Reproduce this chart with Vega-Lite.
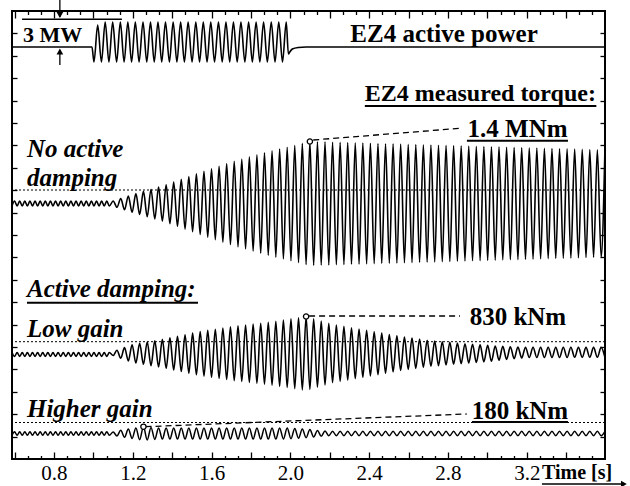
{
"$schema": "https://vega.github.io/schema/vega-lite/v6.json",
"width": 593, "height": 448,
"autosize": {"type": "none"},
"padding": {"left": 12, "top": 11, "right": 25, "bottom": 27},
"background": "white",
"config": {"view": {"stroke": "black", "strokeWidth": 2}, "font": "Liberation Serif"},
"data": {"values": [{}]},
"datasets": {
"power": [
{"t":0.587,"p":412},{"t":0.993,"p":412},
{"t":1.003,"p":397},{"t":1.022,"p":434},{"t":1.041,"p":397},{"t":1.060,"p":437},{"t":1.079,"p":397},{"t":1.098,"p":437},
{"t":1.118,"p":397},{"t":1.137,"p":437},{"t":1.156,"p":397},{"t":1.175,"p":437},{"t":1.194,"p":397},{"t":1.213,"p":437},
{"t":1.232,"p":397},{"t":1.252,"p":437},{"t":1.271,"p":397},{"t":1.290,"p":437},{"t":1.309,"p":397},{"t":1.328,"p":437},
{"t":1.347,"p":397},{"t":1.366,"p":437},{"t":1.386,"p":397},{"t":1.405,"p":437},{"t":1.424,"p":397},{"t":1.443,"p":437},
{"t":1.462,"p":397},{"t":1.481,"p":437},{"t":1.501,"p":397},{"t":1.520,"p":437},{"t":1.539,"p":397},{"t":1.558,"p":437},
{"t":1.577,"p":397},{"t":1.596,"p":437},{"t":1.615,"p":397},{"t":1.635,"p":437},{"t":1.654,"p":397},{"t":1.673,"p":437},
{"t":1.692,"p":397},{"t":1.711,"p":437},{"t":1.730,"p":397},{"t":1.749,"p":437},{"t":1.769,"p":397},{"t":1.788,"p":437},
{"t":1.807,"p":397},{"t":1.826,"p":437},{"t":1.845,"p":397},{"t":1.864,"p":437},{"t":1.883,"p":397},{"t":1.903,"p":437},
{"t":1.922,"p":397},{"t":1.941,"p":437},{"t":1.960,"p":397},{"t":1.979,"p":437},
{"t":1.990,"p":405},{"t":1.997,"p":407},{"t":2.010,"p":410},{"t":2.040,"p":411.5},{"t":2.080,"p":412},{"t":3.597,"p":412}
],
"torque": [
{"t":0.587,"b":253,"c":106.5,"d":23.7},{"t":0.600,"b":258,"c":102.5,"d":27.3},
{"t":0.613,"b":253,"c":106.5,"d":23.7},{"t":0.626,"b":258,"c":102.5,"d":27.3},
{"t":0.639,"b":253,"c":106.5,"d":23.7},{"t":0.652,"b":258,"c":102.5,"d":27.3},
{"t":0.665,"b":253,"c":106.5,"d":23.7},{"t":0.678,"b":258,"c":102.5,"d":27.3},
{"t":0.691,"b":253,"c":106.5,"d":23.7},{"t":0.704,"b":258,"c":102.5,"d":27.3},
{"t":0.717,"b":253,"c":106.5,"d":23.7},{"t":0.730,"b":258,"c":102.5,"d":27.3},
{"t":0.743,"b":253,"c":106.5,"d":23.7},{"t":0.756,"b":258,"c":102.5,"d":27.3},
{"t":0.769,"b":253,"c":106.5,"d":23.7},{"t":0.782,"b":258,"c":102.5,"d":27.3},
{"t":0.795,"b":253,"c":106.5,"d":23.7},{"t":0.808,"b":258,"c":102.5,"d":27.3},
{"t":0.821,"b":253,"c":106.5,"d":23.7},{"t":0.834,"b":258,"c":102.5,"d":27.3},
{"t":0.847,"b":253,"c":106.5,"d":23.7},{"t":0.860,"b":258,"c":102.5,"d":27.3},
{"t":0.873,"b":253,"c":106.5,"d":23.7},{"t":0.886,"b":258,"c":102.5,"d":27.3},
{"t":0.899,"b":253,"c":106.5,"d":23.7},{"t":0.912,"b":258,"c":102.5,"d":27.3},
{"t":0.925,"b":253,"c":106.5,"d":23.7},{"t":0.938,"b":258,"c":102.5,"d":27.3},
{"t":0.951,"b":253,"c":106.5,"d":23.7},{"t":0.964,"b":258,"c":102.5,"d":27.3},
{"t":0.977,"b":253,"c":106.5,"d":23.7},{"t":0.990,"b":258,"c":102.5,"d":27.3},
{"t":1.003,"b":253,"c":106.5,"d":23.7},{"t":1.016,"b":258,"c":102.5,"d":27.3},
{"t":1.029,"b":253,"c":106.5,"d":23.7},{"t":1.042,"b":258,"c":102.5,"d":27.3},
{"t":1.055,"b":253,"c":106.5,"d":23.7},{"t":1.068,"b":258,"c":102.5,"d":27.3},
{"t":1.081,"b":253,"c":106.5,"d":23.7},
{"t":1.1006,"b":258.0,"c":103.5,"d":27.0},
{"t":1.1198,"b":251.7,"c":108.8,"d":23.0},
{"t":1.1390,"b":260.5,"c":100.8,"d":28.7},
{"t":1.1582,"b":249.2,"c":111.5,"d":21.7},
{"t":1.1774,"b":263.0,"c":98.1,"d":29.9},
{"t":1.1966,"b":246.7,"c":114.3,"d":20.5},
{"t":1.2158,"b":265.4,"c":96.0,"d":31.1},
{"t":1.2350,"b":244.5,"c":115.7,"d":19.3},
{"t":1.2542,"b":267.6,"c":94.7,"d":32.3},
{"t":1.2734,"b":242.3,"c":117.0,"d":19.1},
{"t":1.2926,"b":269.8,"c":93.3,"d":31.6},
{"t":1.3118,"b":240.1,"c":118.3,"d":19.6},
{"t":1.3310,"b":272.0,"c":92.0,"d":31.1},
{"t":1.3502,"b":237.9,"c":119.7,"d":19.9},
{"t":1.3694,"b":274.2,"c":90.7,"d":31.1},
{"t":1.3886,"b":235.4,"c":121.1,"d":19.9},
{"t":1.4078,"b":276.9,"c":89.1,"d":31.1},
{"t":1.4270,"b":232.7,"c":122.7,"d":19.9},
{"t":1.4462,"b":279.7,"c":87.5,"d":31.1},
{"t":1.4654,"b":229.9,"c":124.3,"d":19.9},
{"t":1.4846,"b":282.5,"c":85.9,"d":31.1},
{"t":1.5038,"b":227.2,"c":125.9,"d":19.9},
{"t":1.5230,"b":285.2,"c":84.3,"d":31.1},
{"t":1.5422,"b":224.5,"c":127.5,"d":19.9},
{"t":1.5614,"b":287.8,"c":82.9,"d":31.1},
{"t":1.5806,"b":221.9,"c":128.7,"d":19.9},
{"t":1.5998,"b":290.3,"c":81.7,"d":31.1},
{"t":1.6190,"b":219.4,"c":129.8,"d":19.9},
{"t":1.6382,"b":292.8,"c":80.6,"d":31.1},
{"t":1.6574,"b":216.9,"c":131.0,"d":19.9},
{"t":1.6766,"b":295.4,"c":79.5,"d":31.1},
{"t":1.6958,"b":214.4,"c":132.1,"d":19.9},
{"t":1.7150,"b":297.8,"c":78.4,"d":31.1},
{"t":1.7342,"b":212.1,"c":133.1,"d":19.9},
{"t":1.7534,"b":299.9,"c":77.5,"d":31.1},
{"t":1.7726,"b":210.0,"c":134.0,"d":19.9},
{"t":1.7918,"b":302.1,"c":76.6,"d":31.1},
{"t":1.8110,"b":207.9,"c":134.9,"d":19.9},
{"t":1.8302,"b":304.2,"c":75.7,"d":31.1},
{"t":1.8494,"b":205.7,"c":135.8,"d":19.9},
{"t":1.8686,"b":306.3,"c":74.8,"d":31.1},
{"t":1.8878,"b":203.7,"c":136.7,"d":19.9},
{"t":1.9070,"b":308.2,"c":73.7,"d":31.1},
{"t":1.9262,"b":201.9,"c":137.8,"d":19.9},
{"t":1.9454,"b":310.0,"c":72.6,"d":31.1},
{"t":1.9646,"b":200.1,"c":139.0,"d":20.0},
{"t":1.9838,"b":311.8,"c":71.5,"d":30.9},
{"t":2.0030,"b":198.2,"c":140.1,"d":20.3},
{"t":2.0222,"b":313.7,"c":70.3,"d":30.5},
{"t":2.0414,"b":196.4,"c":141.3,"d":20.7},
{"t":2.0606,"b":315.6,"c":69.1,"d":30.0},
{"t":2.0798,"b":194.5,"c":142.5,"d":21.3},
{"t":2.0990,"b":317.5,"c":69.6,"d":29.4},
{"t":2.1182,"b":193.6,"c":140.3,"d":22.0},
{"t":2.1374,"b":317.3,"c":71.9,"d":28.6},
{"t":2.1566,"b":193.8,"c":138.0,"d":22.7},
{"t":2.1758,"b":317.1,"c":74.1,"d":28.0},
{"t":2.1950,"b":194.0,"c":135.7,"d":23.3},
{"t":2.2142,"b":316.8,"c":76.4,"d":27.7},
{"t":2.2334,"b":194.3,"c":134.0,"d":23.3},
{"t":2.2526,"b":316.6,"c":77.7,"d":27.7},
{"t":2.2718,"b":194.5,"c":132.6,"d":23.3},
{"t":2.2910,"b":316.4,"c":79.0,"d":27.7},
{"t":2.3102,"b":194.7,"c":131.3,"d":23.3},
{"t":2.3294,"b":316.2,"c":80.4,"d":27.7},
{"t":2.3486,"b":194.9,"c":130.0,"d":23.3},
{"t":2.3678,"b":316.0,"c":81.7,"d":27.7},
{"t":2.3870,"b":195.1,"c":128.6,"d":23.3},
{"t":2.4062,"b":315.8,"c":83.1,"d":27.7},
{"t":2.4254,"b":195.4,"c":127.3,"d":23.3},
{"t":2.4446,"b":315.5,"c":84.4,"d":27.7},
{"t":2.4638,"b":195.6,"c":125.9,"d":23.3},
{"t":2.4830,"b":315.3,"c":85.8,"d":27.7},
{"t":2.5022,"b":195.8,"c":124.5,"d":23.3},
{"t":2.5214,"b":315.1,"c":87.2,"d":27.7},
{"t":2.5406,"b":196.0,"c":123.1,"d":23.3},
{"t":2.5598,"b":314.9,"c":88.6,"d":27.7},
{"t":2.5790,"b":196.2,"c":121.9,"d":23.3},
{"t":2.5982,"b":314.7,"c":89.6,"d":27.7},
{"t":2.6174,"b":196.4,"c":120.9,"d":23.3},
{"t":2.6366,"b":314.5,"c":90.6,"d":27.7},
{"t":2.6558,"b":196.7,"c":119.9,"d":23.3},
{"t":2.6750,"b":314.2,"c":91.6,"d":27.7},
{"t":2.6942,"b":196.9,"c":118.8,"d":23.3},
{"t":2.7134,"b":314.0,"c":92.7,"d":27.7},
{"t":2.7326,"b":197.1,"c":117.9,"d":23.3},
{"t":2.7518,"b":313.8,"c":93.4,"d":27.7},
{"t":2.7710,"b":197.3,"c":117.3,"d":23.3},
{"t":2.7902,"b":313.6,"c":94.1,"d":27.7},
{"t":2.8094,"b":197.5,"c":116.6,"d":23.3},
{"t":2.8286,"b":313.4,"c":94.7,"d":27.7},
{"t":2.8478,"b":197.8,"c":115.9,"d":23.3},
{"t":2.8670,"b":313.1,"c":95.4,"d":27.7},
{"t":2.8862,"b":198.0,"c":115.3,"d":23.3},
{"t":2.9054,"b":312.9,"c":96.0,"d":27.7},
{"t":2.9246,"b":198.2,"c":114.7,"d":23.3},
{"t":2.9438,"b":312.7,"c":96.6,"d":27.7},
{"t":2.9630,"b":198.4,"c":114.1,"d":23.3},
{"t":2.9822,"b":312.5,"c":97.1,"d":27.7},
{"t":3.0014,"b":198.6,"c":113.6,"d":23.3},
{"t":3.0206,"b":312.3,"c":97.7,"d":27.7},
{"t":3.0398,"b":198.8,"c":113.0,"d":23.3},
{"t":3.0590,"b":312.1,"c":98.8,"d":27.7},
{"t":3.0782,"b":199.1,"c":112.7,"d":23.3},
{"t":3.0974,"b":311.8,"c":99.6,"d":27.7},
{"t":3.1166,"b":199.3,"c":112.3,"d":23.3},
{"t":3.1358,"b":311.6,"c":100.3,"d":27.7},
{"t":3.1550,"b":199.5,"c":112.0,"d":23.3},
{"t":3.1742,"b":311.4,"c":101.0,"d":27.7},
{"t":3.1934,"b":199.7,"c":111.8,"d":23.3},
{"t":3.2126,"b":311.2,"c":101.5,"d":27.7},
{"t":3.2318,"b":199.9,"c":111.8,"d":23.3},
{"t":3.2510,"b":311.0,"c":101.5,"d":27.7},
{"t":3.2702,"b":200.2,"c":111.8,"d":23.3},
{"t":3.2894,"b":310.7,"c":101.5,"d":27.7},
{"t":3.3086,"b":200.4,"c":111.8,"d":23.3},
{"t":3.3278,"b":310.5,"c":101.5,"d":27.7},
{"t":3.3470,"b":200.6,"c":111.8,"d":23.3},
{"t":3.3662,"b":310.3,"c":101.5,"d":27.7},
{"t":3.3854,"b":200.8,"c":111.8,"d":23.3},
{"t":3.4046,"b":310.1,"c":101.5,"d":27.7},
{"t":3.4238,"b":201.0,"c":111.8,"d":23.3},
{"t":3.4430,"b":309.9,"c":101.7,"d":27.7},
{"t":3.4622,"b":201.2,"c":111.6,"d":23.3},
{"t":3.4814,"b":309.7,"c":101.7,"d":27.7},
{"t":3.5006,"b":201.5,"c":111.6,"d":23.3},
{"t":3.5198,"b":309.4,"c":101.7,"d":27.7},
{"t":3.5390,"b":201.7,"c":111.6,"d":23.3},
{"t":3.5582,"b":309.2,"c":101.7,"d":27.7},
{"t":3.5774,"b":201.9,"c":111.6,"d":23.3},
{"t":3.5966,"b":309.0,"c":101.7,"d":27.7}
],
"peaks": [
{"t":2.099,"v":317.5},{"t":2.0798,"v":142.5},{"t":1.2542,"v":32.3}
]
},
"layer": [
{"mark": {"type": "rule", "color": "black", "strokeWidth": 1, "strokeDash": [2, 2]},
 "encoding": {"y": {"datum": 269, "axis": null}}},
{"mark": {"type": "rule", "color": "black", "strokeWidth": 1, "strokeDash": [2, 2]},
 "encoding": {"y": {"datum": 117.3, "axis": null}}},
{"mark": {"type": "rule", "color": "black", "strokeWidth": 1, "strokeDash": [2, 2]},
 "encoding": {"y": {"datum": 36.5, "axis": null}}},
{"data": {"name": "power"},
 "mark": {"type": "line", "color": "black", "strokeWidth": 1.6, "interpolate": "monotone"},
 "encoding": {
  "x": {"field": "t", "type": "quantitative", "scale": {"domain": [0.587, 3.597], "nice": false, "zero": false},
   "axis": {"orient": "bottom", "values": [0.6,0.6667,0.7333,0.8,0.8667,0.9333,1.0,1.0667,1.1333,1.2,1.2667,1.3333,1.4,1.4667,1.5333,1.6,1.6667,1.7333,1.8,1.8667,1.9333,2.0,2.0667,2.1333,2.2,2.2667,2.3333,2.4,2.4667,2.5333,2.6,2.6667,2.7333,2.8,2.8667,2.9333,3.0,3.0667,3.1333,3.2,3.2667,3.3333,3.4,3.4667,3.5333],
    "domain": false, "grid": false, "tickColor": "black", "tickWidth": 1.3,
    "tickSize": {"condition": {"test": "abs(datum.value*5-round(datum.value*5))<0.01", "value": -7}, "value": -3.5},
    "labelExpr": "abs(datum.value*2.5-round(datum.value*2.5))<0.01 ? format(datum.value,'.1f') : ''",
    "labelFont": "Liberation Serif", "labelFontSize": 21, "labelColor": "black", "labelBaseline": "top",
    "labelPadding": 10, "labelOverlap": false, "labelFlush": false, "title": null}},
  "y": {"field": "p", "type": "quantitative", "scale": {"domain": [0, 448], "nice": false, "zero": false},
   "axis": {"orient": "left", "values": [22.4,44.8,67.2,89.6,112,134.4,156.8,179.2,201.6,224,246.4,268.8,291.2,313.6,336,358.4,380.8,403.2,425.6],
    "domain": false, "grid": false, "labels": false, "tickSize": -5, "tickColor": "black", "tickWidth": 1.3, "title": null}}
 }},
{"data": {"name": "torque"},
 "mark": {"type": "line", "color": "black", "strokeWidth": 1.6, "interpolate": "monotone"},
 "encoding": {
  "x": {"field": "t", "type": "quantitative", "scale": {"domain": [0.587, 3.597], "nice": false, "zero": false},
   "axis": {"orient": "top", "values": [0.6,0.6667,0.7333,0.8,0.8667,0.9333,1.0,1.0667,1.1333,1.2,1.2667,1.3333,1.4,1.4667,1.5333,1.6,1.6667,1.7333,1.8,1.8667,1.9333,2.0,2.0667,2.1333,2.2,2.2667,2.3333,2.4,2.4667,2.5333,2.6,2.6667,2.7333,2.8,2.8667,2.9333,3.0,3.0667,3.1333,3.2,3.2667,3.3333,3.4,3.4667,3.5333],
    "domain": false, "grid": false, "labels": false, "tickColor": "black", "tickWidth": 1.3,
    "tickSize": {"condition": {"test": "abs(datum.value*5-round(datum.value*5))<0.01", "value": -7}, "value": -3.5},
    "title": null}},
  "y": {"field": "b", "type": "quantitative", "scale": {"domain": [0, 448], "nice": false, "zero": false},
   "axis": {"orient": "right", "values": [22.4,44.8,67.2,89.6,112,134.4,156.8,179.2,201.6,224,246.4,268.8,291.2,313.6,336,358.4,380.8,403.2,425.6],
    "domain": false, "grid": false, "labels": false, "tickSize": -5, "tickColor": "black", "tickWidth": 1.3, "title": null}}
 }},
{"data": {"name": "torque"},
 "mark": {"type": "line", "color": "black", "strokeWidth": 1.6, "interpolate": "monotone"},
 "encoding": {
  "x": {"field": "t", "type": "quantitative", "scale": {"domain": [0.587, 3.597], "nice": false, "zero": false}, "axis": null},
  "y": {"field": "c", "type": "quantitative", "scale": {"domain": [0, 448], "nice": false, "zero": false}, "axis": null}
 }},
{"data": {"name": "torque"},
 "mark": {"type": "line", "color": "black", "strokeWidth": 1.5, "interpolate": "monotone"},
 "encoding": {
  "x": {"field": "t", "type": "quantitative", "scale": {"domain": [0.587, 3.597], "nice": false, "zero": false}, "axis": null},
  "y": {"field": "d", "type": "quantitative", "scale": {"domain": [0, 448], "nice": false, "zero": false}, "axis": null}
 }},
{"mark": {"type": "rule", "color": "black", "strokeWidth": 1.5},
 "encoding": {"x": {"datum": 0.638, "axis": null}, "x2": {"datum": 1.145}, "y": {"datum": 439.7, "axis": null}}},
{"mark": {"type": "rule", "color": "black", "strokeWidth": 1.3},
 "encoding": {"x": {"datum": 0.830, "axis": null}, "y": {"datum": 459, "axis": null}, "y2": {"datum": 442}}},
{"mark": {"type": "point", "shape": "triangle-down", "filled": true, "color": "black", "opacity": 1, "size": 45},
 "encoding": {"x": {"datum": 0.830, "axis": null}, "y": {"datum": 444, "axis": null}}},
{"mark": {"type": "rule", "color": "black", "strokeWidth": 1.3},
 "encoding": {"x": {"datum": 0.830, "axis": null}, "y": {"datum": 394, "axis": null}, "y2": {"datum": 409}}},
{"mark": {"type": "point", "shape": "triangle-up", "filled": true, "color": "black", "opacity": 1, "size": 45},
 "encoding": {"x": {"datum": 0.830, "axis": null}, "y": {"datum": 407.5, "axis": null}}},
{"mark": {"type": "rule", "color": "black", "strokeWidth": 1.3, "strokeDash": [6, 4]},
 "encoding": {"x": {"datum": 2.116, "axis": null}, "x2": {"datum": 2.861}, "y": {"datum": 319, "axis": null}, "y2": {"datum": 330.7}}},
{"mark": {"type": "rule", "color": "black", "strokeWidth": 1.3, "strokeDash": [6, 4]},
 "encoding": {"x": {"datum": 2.095, "axis": null}, "x2": {"datum": 2.861}, "y": {"datum": 143, "axis": null}, "y2": {"datum": 143}}},
{"mark": {"type": "rule", "color": "black", "strokeWidth": 1.3, "strokeDash": [6, 4]},
 "encoding": {"x": {"datum": 1.265, "axis": null}, "x2": {"datum": 2.895}, "y": {"datum": 32.3, "axis": null}, "y2": {"datum": 45}}},
{"data": {"name": "peaks"},
 "mark": {"type": "point", "shape": "circle", "filled": true, "fill": "white", "stroke": "black", "strokeWidth": 1.3, "opacity": 1, "size": 28},
 "encoding": {
  "x": {"field": "t", "type": "quantitative", "scale": {"domain": [0.587, 3.597], "nice": false, "zero": false}, "axis": null},
  "y": {"field": "v", "type": "quantitative", "scale": {"domain": [0, 448], "nice": false, "zero": false}, "axis": null}
 }},
{"mark": {"type": "text", "text": "3 MW", "font": "Liberation Serif", "fontWeight": "bold", "fontSize": 22, "align": "left", "baseline": "alphabetic", "color": "black"},
 "encoding": {"x": {"datum": 0.643, "axis": null}, "y": {"datum": 417, "axis": null}}},
{"mark": {"type": "text", "text": "EZ4 active power", "font": "Liberation Serif", "fontWeight": "bold", "fontSize": 25, "align": "center", "baseline": "alphabetic", "color": "black"},
 "encoding": {"x": {"datum": 2.780, "axis": null}, "y": {"datum": 417.3, "axis": null}}},
{"mark": {"type": "text", "text": "EZ4 measured torque:", "font": "Liberation Serif", "fontWeight": "bold", "fontSize": 24, "align": "right", "baseline": "alphabetic", "color": "black"},
 "encoding": {"x": {"datum": 3.551, "axis": null}, "y": {"datum": 358, "axis": null}}},
{"mark": {"type": "rule", "color": "black", "strokeWidth": 2},
 "encoding": {"x": {"datum": 2.378, "axis": null}, "x2": {"datum": 3.553}, "y": {"datum": 353, "axis": null}}},
{"mark": {"type": "text", "text": "1.4 MNm", "font": "Liberation Serif", "fontWeight": "bold", "fontSize": 25, "align": "center", "baseline": "alphabetic", "color": "black"},
 "encoding": {"x": {"datum": 3.153, "axis": null}, "y": {"datum": 322, "axis": null}}},
{"mark": {"type": "rule", "color": "black", "strokeWidth": 2},
 "encoding": {"x": {"datum": 2.896, "axis": null}, "x2": {"datum": 3.409}, "y": {"datum": 318.3, "axis": null}}},
{"mark": {"type": "text", "text": "830 kNm", "font": "Liberation Serif", "fontWeight": "bold", "fontSize": 25, "align": "center", "baseline": "alphabetic", "color": "black"},
 "encoding": {"x": {"datum": 3.155, "axis": null}, "y": {"datum": 134, "axis": null}}},
{"mark": {"type": "text", "text": "180 kNm", "font": "Liberation Serif", "fontWeight": "bold", "fontSize": 25, "align": "center", "baseline": "alphabetic", "color": "black"},
 "encoding": {"x": {"datum": 3.165, "axis": null}, "y": {"datum": 40, "axis": null}}},
{"mark": {"type": "rule", "color": "black", "strokeWidth": 2},
 "encoding": {"x": {"datum": 2.922, "axis": null}, "x2": {"datum": 3.409}, "y": {"datum": 37, "axis": null}}},
{"mark": {"type": "text", "text": "No active", "font": "Liberation Serif", "fontWeight": "bold", "fontStyle": "italic", "fontSize": 25, "align": "left", "baseline": "alphabetic", "color": "black"},
 "encoding": {"x": {"datum": 0.663, "axis": null}, "y": {"datum": 302, "axis": null}}},
{"mark": {"type": "text", "text": "damping", "font": "Liberation Serif", "fontWeight": "bold", "fontStyle": "italic", "fontSize": 25, "align": "left", "baseline": "alphabetic", "color": "black"},
 "encoding": {"x": {"datum": 0.663, "axis": null}, "y": {"datum": 273, "axis": null}}},
{"mark": {"type": "text", "text": "Active damping:", "font": "Liberation Serif", "fontWeight": "bold", "fontStyle": "italic", "fontSize": 25, "align": "left", "baseline": "alphabetic", "color": "black"},
 "encoding": {"x": {"datum": 0.663, "axis": null}, "y": {"datum": 162.3, "axis": null}}},
{"mark": {"type": "rule", "color": "black", "strokeWidth": 2},
 "encoding": {"x": {"datum": 0.663, "axis": null}, "x2": {"datum": 1.531}, "y": {"datum": 156.3, "axis": null}}},
{"mark": {"type": "text", "text": "Low gain", "font": "Liberation Serif", "fontWeight": "bold", "fontStyle": "italic", "fontSize": 25, "align": "left", "baseline": "alphabetic", "color": "black"},
 "encoding": {"x": {"datum": 0.663, "axis": null}, "y": {"datum": 122.3, "axis": null}}},
{"mark": {"type": "text", "text": "Higher gain", "font": "Liberation Serif", "fontWeight": "bold", "fontStyle": "italic", "fontSize": 25, "align": "left", "baseline": "alphabetic", "color": "black"},
 "encoding": {"x": {"datum": 0.663, "axis": null}, "y": {"datum": 42.3, "axis": null}}},
{"mark": {"type": "text", "text": "Time [s]", "font": "Liberation Serif", "fontWeight": "bold", "fontSize": 20, "align": "left", "baseline": "alphabetic", "color": "black"},
 "encoding": {"x": {"datum": 3.277, "axis": null}, "y": {"datum": -20, "axis": null}}},
{"mark": {"type": "rule", "color": "black", "strokeWidth": 1.5},
 "encoding": {"x": {"datum": 3.277, "axis": null}, "x2": {"datum": 3.69}, "y": {"datum": -25, "axis": null}}},
{"mark": {"type": "point", "shape": "triangle-right", "filled": true, "color": "black", "opacity": 1, "size": 45},
 "encoding": {"x": {"datum": 3.693, "axis": null}, "y": {"datum": -25, "axis": null}}}
],
"resolve": {"axis": {"x": "independent", "y": "independent"}}
}
